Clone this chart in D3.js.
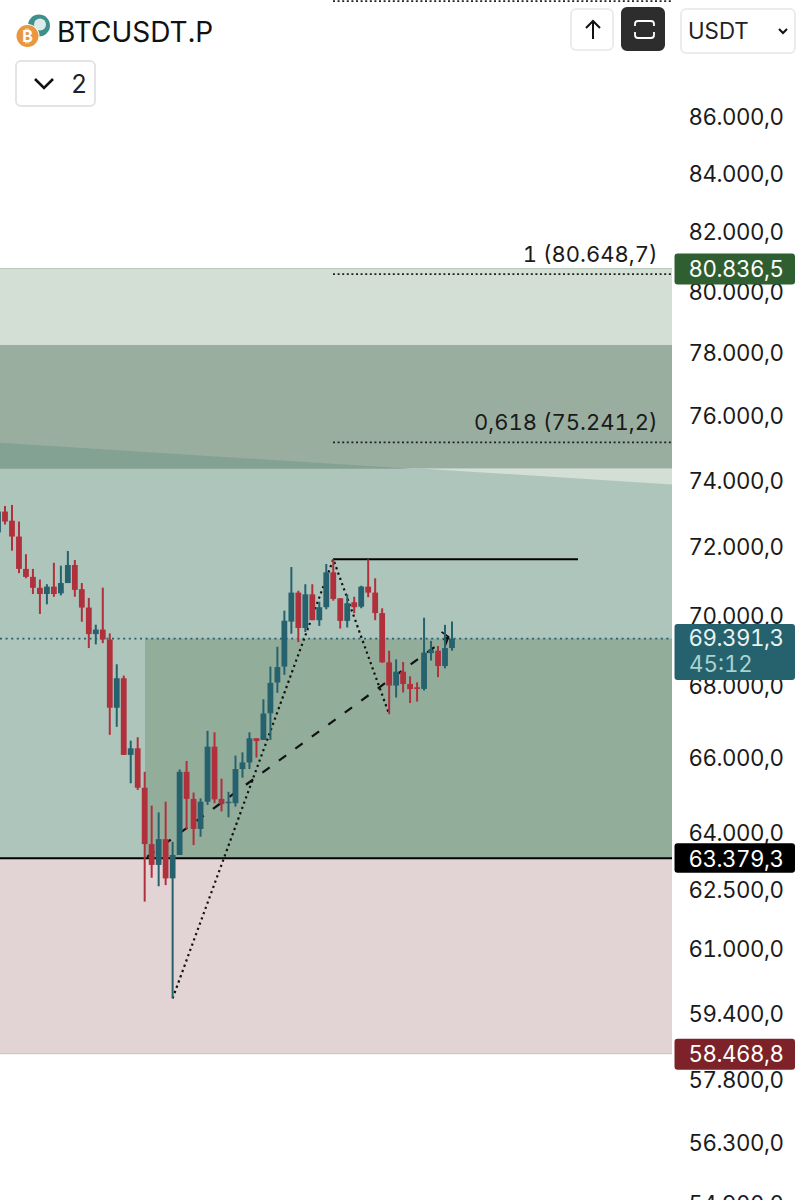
<!DOCTYPE html>
<html><head><meta charset="utf-8">
<script src="https://cdn.jsdelivr.net/npm/d3@7/dist/d3.min.js"></script>
<style>html,body{margin:0;padding:0;background:#fff}svg{display:block}text{font-family:Inter,"Liberation Sans",sans-serif;font-feature-settings:"tnum" 1}</style>
</head><body><svg id="c" width="804" height="1200"></svg>
<script>
// index -1 .. 64
const opens=[72500,73125,72850,72375,71415,71180,70860,70680,70895,70700,71000,71530,70820,70285,69520,69650,69365,67440,68265,66140,66320,65250,63750,63205,63880,62855,63465,65680,64950,64150,64875,66365,64950,64850,64835,65755,65935,66595,66550,67285,68145,68595,69880,70720,69695,70670,69920,70295,71315,70555,69900,70440,70310,70895,70720,70125,68715,68060,68450,68105,68010,67965,68975,69045,68610,69120];
const closes=[73125,72825,72375,71415,71180,70860,70680,70895,70680,71000,71530,70800,70285,69520,69650,69365,67440,68265,66140,66320,65250,63750,63205,63880,62855,63465,65680,64950,64150,64875,66365,64940,64810,64875,65755,65935,66595,66520,67280,68135,68580,69905,70720,69695,70670,69920,70295,71315,70535,69900,70410,70295,70895,70720,70125,68715,68060,68450,68105,67960,67965,68990,69066,68610,69120,69391];
const highs=[73325,73295,73325,72825,71850,71415,71105,70965,71595,71510,71945,71680,71000,70565,69790,70865,69540,68660,68340,66530,66625,65680,64770,64590,64875,63810,65745,65975,65120,64965,66800,66760,65495,65140,66120,66210,66760,66595,67675,68595,69160,70195,71470,70775,70965,70965,70455,71560,71700,70555,70670,70600,70920,71700,71140,70265,69045,68800,68725,68320,68150,69990,69325,69180,69785,69880];
const lows=[72430,72735,71955,71290,71140,70680,70100,70380,70600,70640,71000,70600,69875,69120,69225,69260,66690,66910,66140,65370,65190,62255,62870,62650,62680,59820,63465,64140,63725,63945,64790,64835,64615,64460,64745,65520,65755,66065,66550,66550,67855,68360,69530,69290,69580,69920,69755,70235,70485,69680,69710,70120,70265,70585,69920,68700,67260,67725,67865,67570,67610,67920,68765,68295,68545,69045];
const firstIndex=-1;
const tickValues=[86000,84000,82000,80000,78000,76000,74000,72000,70000,68000,66000,64000,62500,61000,59400,57800,56300,54900];
const fibLevels=[[80648.7,"1 (80.648,7)"],[75241.2,"0,618 (75.241,2)"]];
const topLevel=90270, resistance=71700, support=63379.3, lastPrice=69391.3;
const zoneTop=80836.5, zoneMidTop=78328, zoneBottom=58468.8;
const slopeLeft=75230, slopeCross=74430, slopeRight=73950;
const tags=[[80836.5,"80.836,5","#2f5f31"],[63379.3,"63.379,3","#000000"],[58468.8,"58.468,8","#7c2228"]];
const dotPath=[[24,59820],[47,71700],[55,67260]];
const dashPath=[[20.34,63414],[63.5,69440]];

const fmt=v=>d3.format(",.1f")(v).replace(/,/g,"§").replace(".",",").replace(/§/g,".");
const svg=d3.select("#c");
const y=d3.scaleLog().domain([86000,56300]).range([118.5,1145.3]);
const x=d3.scaleLinear().domain([0,64]).range([5,452]);
const W=672;
const up="#26616e", down="#b0303c";
const bg=svg.append("g");
const R=(y0,y1,x0,x1,c)=>bg.append("rect").attr("x",x0).attr("y",y0).attr("width",x1-x0).attr("height",y1-y0).attr("fill",c);
const yt=y(zoneTop), ym=y(zoneMidTop), ys=y(support), yb=y(zoneBottom);
const yL=y(slopeLeft), yC=y(slopeCross), yR=y(slopeRight);
R(yt,ym,0,W,"#d3dfd4");
R(ym,yC,0,W,"#9aaea0");
R(yC,ys,0,W,"#aec5bb");
bg.append("path").attr("d",d3.line()([[0,yL],[412,yC],[0,yC]])).attr("fill","#84a294");
bg.append("path").attr("d",d3.line()([[424,yC],[W,yC],[W,yR]])).attr("fill","#d3dfd4");
R(y(lastPrice),ys,145,W,"#93ad9b");
R(ys,yb,0,W,"#e2d3d5");
R(yt-.5,yt+.5,0,W,"#b5c8b8");
R(yb-.5,yb+.5,0,W,"#d6b8be");
// levels
const lv=svg.append("g");
const H=(v,x0,x1,o)=>lv.append("line").attr("x1",x0).attr("x2",x1).attr("y1",y(v)).attr("y2",y(v)).attr("stroke",o.c||"#000").attr("stroke-width",o.w||1.5).attr("stroke-dasharray",o.d||null);
H(topLevel,333,672,{d:"2 2.6",w:1.8,c:"#222"});
fibLevels.forEach(f=>{H(f[0],333,672,{d:"2 2.6",w:1.8,c:"#222"});
 svg.append("text").attr("x",657.5).attr("y",y(f[0])-20.5).attr("dy","0.36em").attr("text-anchor","end").attr("font-size",22).attr("fill","#1a1a1a").text(f[1]);});
H(lastPrice,0,672,{d:"2 3.6",w:1.6,c:"#26616e"});
H(support,0,672,{w:2});
H(resistance,333,578,{w:2});
const pl=d3.line().x(d=>x(d[0])).y(d=>y(d[1]));
lv.append("path").attr("d",pl(dotPath)).attr("fill","none").attr("stroke","#111").attr("stroke-width",2.2).attr("stroke-dasharray","2.2 3.4");
lv.append("path").attr("d",pl(dashPath)).attr("fill","none").attr("stroke","#111").attr("stroke-width",2.2).attr("stroke-dasharray","9 11.4");
const e=dashPath[1], ex=x(e[0]), ey=y(e[1]);
lv.append("path").attr("d",`M${ex-7},${ey-5}L${ex},${ey}L${ex-3},${ey+8}`).attr("fill","none").attr("stroke","#111").attr("stroke-width",1.8);
// candles
const data=opens.map((o,k)=>({i:firstIndex+k,o,c:closes[k],h:highs[k],l:lows[k]}));
const g=svg.append("g").selectAll("g").data(data).join("g");
g.append("line").attr("x1",d=>x(d.i)).attr("x2",d=>x(d.i)).attr("y1",d=>y(d.h)).attr("y2",d=>y(d.l)).attr("stroke",d=>d.c>=d.o?up:down).attr("stroke-width",2);
g.append("rect").attr("x",d=>x(d.i)-2.9).attr("width",5.8).attr("y",d=>y(Math.max(d.o,d.c))).attr("height",d=>Math.max(1.5,Math.abs(y(d.o)-y(d.c)))).attr("fill",d=>d.c>=d.o?up:down);
// axis
const ax=svg.append("g").attr("transform","translate(783.5,0)").call(d3.axisRight(y).tickValues(tickValues).tickSize(0).tickPadding(0).tickFormat(fmt));
ax.select(".domain").remove();
ax.selectAll("text").attr("text-anchor","end").attr("x",0).attr("dy",".32em").attr("transform","translate(0,-1.5)").attr("font-size",22.3).attr("letter-spacing",-0.45).attr("font-family","Inter").attr("fill","#1a1a1a");
// tags
tags.forEach(t=>{const c=y(t[0]);
 svg.append("rect").attr("x",674.5).attr("y",c-15).attr("width",120.5).attr("height",t[2]=="#000000"?29.5:31).attr("rx",3).attr("fill",t[2]);
 svg.append("text").attr("x",783.5).attr("y",c+.5).attr("dy",".36em").attr("text-anchor","end").attr("font-size",22.3).attr("letter-spacing",-0.45).attr("fill","#fff").text(t[1]);});
svg.append("rect").attr("x",674.5).attr("y",624).attr("width",120.5).attr("height",56).attr("rx",3).attr("fill",up);
svg.append("text").attr("x",783.5).attr("y",638).attr("dy",".36em").attr("text-anchor","end").attr("font-size",22.3).attr("letter-spacing",-0.45).attr("fill","#e8f4f2").text(fmt(lastPrice));
svg.append("text").attr("x",689).attr("y",664).attr("dy",".36em").attr("font-size",22.3).attr("fill","#a9d3d3").text("45:12");
// header
const hd=svg.append("g");
hd.append("circle").attr("cx",39).attr("cy",25.5).attr("r",11).attr("fill","#3f8f8b");
hd.append("circle").attr("cx",40).attr("cy",24.5).attr("r",6).attr("fill","#dcecea");
hd.append("circle").attr("cx",27.5).attr("cy",36).attr("r",12).attr("fill","#fff");
hd.append("circle").attr("cx",27.5).attr("cy",36).attr("r",11).attr("fill","#e8973f");
hd.append("text").attr("x",27.5).attr("y",36.5).attr("dy",".36em").attr("text-anchor","middle").attr("font-size",16).attr("font-weight",700).attr("fill","#fff").text("₿");
hd.append("text").attr("x",57).attr("y",32).attr("dy",".36em").attr("font-size",28).attr("fill","#111").text("BTCUSDT.P");
const box=(a,b,w,h,f,s)=>hd.append("rect").attr("x",a).attr("y",b).attr("width",w).attr("height",h).attr("rx",5).attr("fill",f).attr("stroke",s).attr("stroke-width",2);
box(16,61,79,45,"#fff","#e4e4e4");
hd.append("path").attr("d","M35,79L44,88L53,79").attr("fill","none").attr("stroke","#111").attr("stroke-width",2.6);
hd.append("text").attr("x",79).attr("y",84).attr("dy",".36em").attr("text-anchor","middle").attr("font-size",25).attr("fill","#222").text("2");
box(571,9,42,41,"#fff","#ececec");
hd.append("path").attr("d","M593,39V21M586,28L593,21L600,28").attr("fill","none").attr("stroke","#111").attr("stroke-width",2);
box(622,8,42,42,"#2d2d2d","#2d2d2d");
hd.append("path").attr("d","M635,26V24Q635,21 638,21H651Q654,21 654,24V26M635,32V35Q635,38 638,38H651Q654,38 654,35V32").attr("fill","none").attr("stroke","#fff").attr("stroke-width",1.8);
box(681,9,114,44,"#fff","#ececec");
hd.append("text").attr("x",688).attr("y",31).attr("dy",".36em").attr("font-size",22.3).attr("fill","#222").text("USDT");
hd.append("path").attr("d","M779,29L783,33L787,29").attr("fill","none").attr("stroke","#111").attr("stroke-width",2);
</script></body></html>
